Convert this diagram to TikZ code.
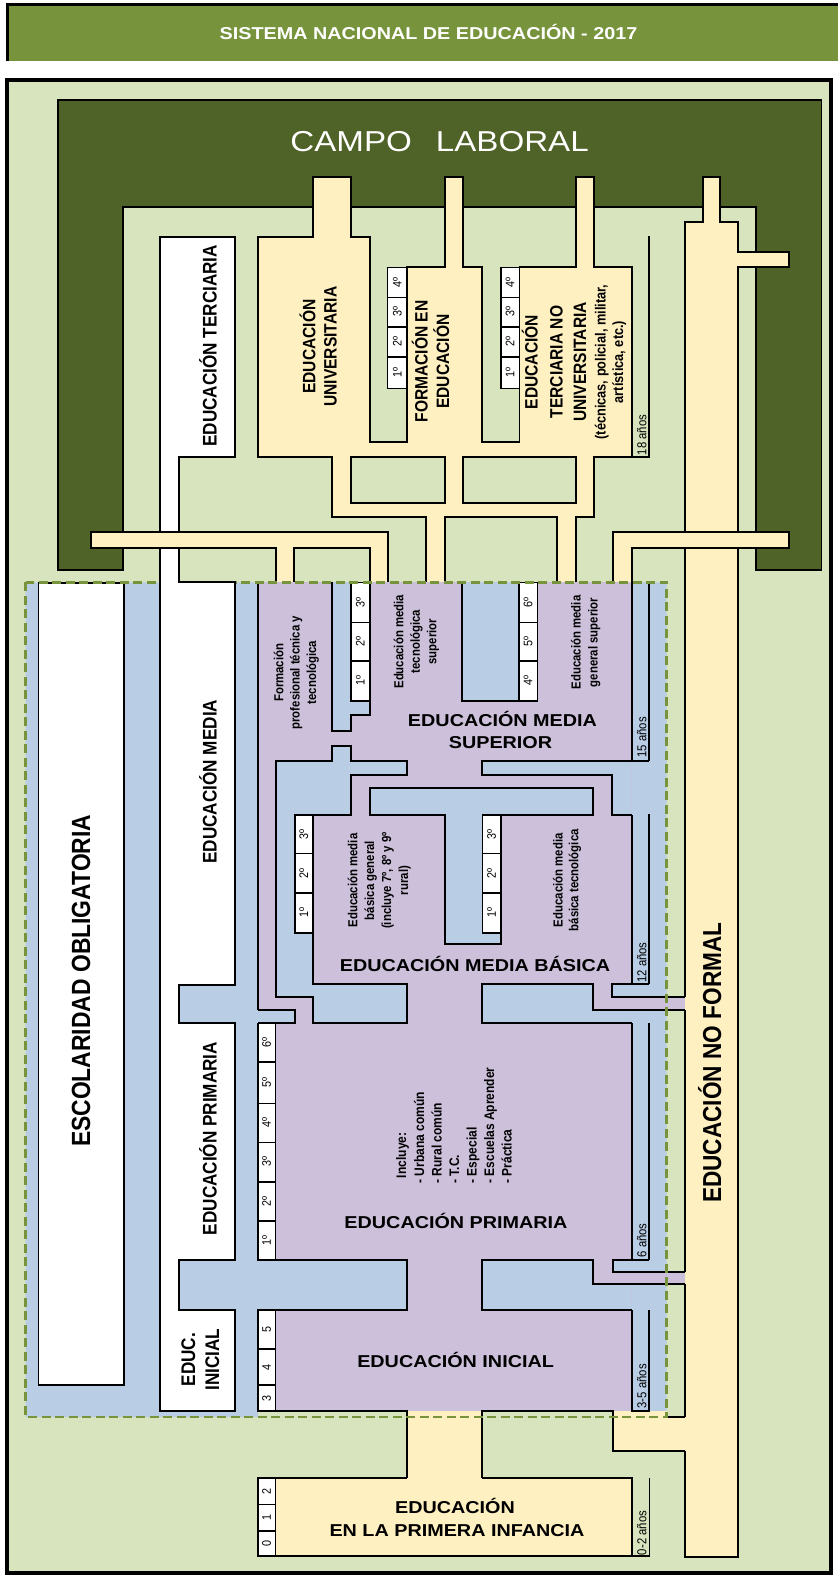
\documentclass[tikz,border=0pt]{standalone}
\usepackage{fontspec}
\setmainfont{Liberation Sans}
\newfontfamily\hfam{Liberation Sans}[FakeStretch=1.15]
\newfontfamily\vfam{Liberation Sans}[FakeStretch=0.87]
\newcommand\fHB[1]{\hfam\bfseries\fontsize{#1}{#1}\selectfont}
\newcommand\fHR[1]{\hfam\fontsize{#1}{#1}\selectfont}
\newcommand\fVB[1]{\vfam\bfseries\fontsize{#1}{#1}\selectfont}
\newcommand\fVR[1]{\vfam\fontsize{#1}{#1}\selectfont}
\definecolor{cOlive}{HTML}{77933C}
\definecolor{cDgreen}{HTML}{4F6228}
\definecolor{cLgreen}{HTML}{D7E4BD}
\definecolor{cYellow}{HTML}{FFF0C1}
\definecolor{cLav}{HTML}{CCC0DA}
\definecolor{cBlue}{HTML}{B9CDE5}
\tikzset{
  ln/.style={draw=black, line width=1.8pt, line join=miter},
  lbl/.style={inner sep=0pt, outer sep=0pt},
  hlab/.style={lbl, anchor=base},
  vlab/.style={lbl, rotate=90, anchor=base},
  vlabw/.style={lbl, rotate=90, anchor=base west},
  cellbox/.style={fill=white, draw=black, line width=1.6pt},
  celltxt/.style={lbl, rotate=90, font=\fVR{12.4}},
  agetxt/.style={lbl, rotate=90, anchor=base, font=\fVR{13}},
}
\begin{document}
\begin{tikzpicture}[x=1pt,y=-1pt]
\useasboundingbox (0,0) rectangle (838,1577);
\fill[white] (0,0) rectangle (838,1577);

% title bar
\fill[cOlive] (7,4.5) rectangle (838,61);
\draw[line width=3pt] (7,61) -- (7,4.5) -- (838,4.5);
\node[hlab, font=\fHB{17.2}, text=white] (title) at (428.5,39) {SISTEMA NACIONAL DE EDUCACIÓN - 2017};

% frame
\draw[fill=cLgreen, line width=3.5pt] (7,80) rectangle (831,1573);

% campo laboral
\draw[ln, fill=cDgreen] (57.7,100) -- (821.5,100) -- (821.5,570) -- (756,570) -- (756,206.7) -- (123,206.7) -- (123,570) -- (57.7,570) -- cycle;
\node[hlab, font=\fHR{28.8}, text=white] (campo) at (439.6,151.7) {CAMPO\hspace{24pt}LABORAL};

% yellow terciaria complex
\draw[ln, fill=cYellow, even odd rule]
 (258,236.7) -- (313.2,236.7) -- (313.2,176.7) -- (351.1,176.7) -- (351.1,236.7) -- (370,236.7) -- (370,442.3) -- (407,442.3) -- (407,267.3) -- (445,267.3) -- (445,176.7) -- (463,176.7) -- (463,267.3) -- (482,267.3) -- (482,442.3) -- (519.5,442.3) -- (519.5,267.3) -- (575.7,267.3) -- (575.7,176.7) -- (594,176.7) -- (594,267.3) -- (632,267.3) -- (632,457.3) -- (594,457.3) -- (594,517.3) -- (576,517.3) -- (576,587) -- (557,587) -- (557,517.3) -- (444.7,517.3) -- (444.7,587) -- (426,587) -- (426,517.3) -- (332,517.3) -- (332,457.3) -- (258,457.3) -- cycle
 (351.1,457.3) rectangle (445,503.3)
 (463,457.3) rectangle (576,503.3);
\draw[ln] (632,457.3) -- (649,457.3) -- (649,236);

% educacion no formal column
\fill[cYellow] (684.7,222.3) -- (703,222.3) -- (703,176.7) -- (720,176.7) -- (720,222.3) -- (738,222.3) -- (738,251.7) -- (789.3,251.7) -- (789.3,267.3) -- (738,267.3) -- (738,1556.7) -- (684.7,1556.7) -- cycle;
\draw[ln] (684.7,532.3) -- (684.7,222.3) -- (703,222.3) -- (703,176.7) -- (720,176.7) -- (720,222.3) -- (738,222.3) -- (738,251.7) -- (789.3,251.7) -- (789.3,267.3) -- (738,267.3) -- (738,532.3);

% white upper column
\fill[white] (160.3,236.7) rectangle (235.2,457.3);
\fill[white] (160.3,457.3) rectangle (179,583);
\draw[ln] (160.3,583) -- (160.3,236.7) -- (235.2,236.7) -- (235.2,457.3) -- (179,457.3) -- (179,583);

% yellow bars
\draw[ln, fill=cYellow] (90.9,532.3) -- (388.3,532.3) -- (388.3,587) -- (370,587) -- (370,548.3) -- (294.3,548.3) -- (294.3,587) -- (275.7,587) -- (275.7,548.3) -- (90.9,548.3) -- cycle;
\draw[ln, fill=cYellow] (612.7,532.3) -- (789.3,532.3) -- (789.3,548.3) -- (632,548.3) -- (632,587) -- (612.7,587) -- cycle;

% escolaridad obligatoria area
\fill[cBlue] (25.7,582.3) -- (666.7,582.3) -- (666.7,1411) -- (258,1411) -- (258,1417) -- (25.7,1417) -- cycle;
\fill[cLav] (257.7,582.3) rectangle (631.7,1411);
\fill[cLav] (631.7,997.3) rectangle (684.7,1010);
\fill[cLav] (631.7,1271.7) rectangle (684.7,1283.7);
\fill[cYellow] (407,1411) rectangle (482,1477.7);
\fill[cYellow] (612.7,1411) rectangle (666.7,1450.7);
\fill[cYellow] (666.7,1416.7) rectangle (684.7,1450.7);

% blue blocks
\fill[cBlue] (331.7,582.3) -- (370,582.3) -- (370,715.3) -- (350.7,715.3) -- (350.7,730.7) -- (331.7,730.7) -- cycle;
\fill[cBlue] (462.3,582.3) rectangle (519,700.7);
\draw[ln, fill=cBlue] (275.7,760.7) -- (331.7,760.7) -- (331.7,745.7) -- (350.7,745.7) -- (350.7,760.7) -- (406.7,760.7) -- (406.7,775) -- (350.7,775) -- (350.7,815) -- (312.7,815) -- (312.7,984) -- (406.7,984) -- (406.7,1023.3) -- (312.7,1023.3) -- (312.7,997.3) -- (275.7,997.3) -- cycle;
\draw[ln, fill=cBlue] (370,788.3) -- (593.3,788.3) -- (593.3,815) -- (500.7,815) -- (500.7,944) -- (445,944) -- (445,815) -- (370,815) -- cycle;
\fill[cBlue] (481.7,760.7) -- (631.7,760.7) -- (631.7,815) -- (612.3,815) -- (612.3,775) -- (481.7,775) -- cycle;
\fill[cBlue] (481.7,984) -- (593.3,984) -- (593.3,1010) -- (631.7,1010) -- (631.7,1023.3) -- (481.7,1023.3) -- cycle;
\fill[cBlue] (612.3,984) rectangle (631.7,997.3);
\fill[cBlue] (481.7,1260) -- (593.3,1260) -- (593.3,1283.7) -- (631.7,1283.7) -- (631.7,1310) -- (481.7,1310) -- cycle;
\fill[cBlue] (612.7,1260) rectangle (631.7,1271.7);
\fill[cBlue] (257.7,1010) rectangle (295,1023.3);
\fill[cBlue] (257.7,1260) rectangle (407,1310);

% outlines
\draw[ln] (331.7,582.3) -- (331.7,730.7) -- (350.7,730.7) -- (350.7,715.3) -- (370,715.3) -- (370,582.3);
\draw[ln] (462.3,582.3) -- (462.3,700.7) -- (537.3,700.7) -- (537.3,582.3);
\draw[ln] (631.7,815) -- (612.3,815) -- (612.3,775) -- (481.7,775) -- (481.7,760.7) -- (649.3,760.7);
\draw[ln] (631.7,1023.3) -- (481.7,1023.3) -- (481.7,984) -- (593.3,984) -- (593.3,1010) -- (684.7,1010);
\draw[ln] (649.3,984) -- (612.3,984) -- (612.3,997.3) -- (684.7,997.3);
\draw[ln] (632,1310) -- (481.7,1310) -- (481.7,1260) -- (593.3,1260) -- (593.3,1283.7) -- (684.7,1283.7);
\draw[ln] (649.3,1260) -- (612.7,1260) -- (612.7,1271.7) -- (684.7,1271.7);
\draw[ln] (257.7,1010) -- (295,1010) -- (295,1023.3) -- (258,1023.3);
\draw[ln] (258,1260) -- (407,1260) -- (407,1310) -- (258,1310);
\draw[ln] (257.7,582.3) -- (257.7,1010);
\draw[ln] (631.7,582.3) -- (631.7,760.7) (649.3,582.3) -- (649.3,760.7);
\draw[ln] (631.7,815) -- (631.7,984) (649.3,814.3) -- (649.3,984);
\draw[ln] (631.7,1023.3) -- (631.7,1260) (649.3,1023.3) -- (649.3,1260);
\draw[ln] (649.3,1310) -- (649.3,1411) -- (632,1411) -- (632,1310);
\draw[ln] (258,1411) -- (407,1411) -- (407,1477.7);
\draw[ln] (482,1477.7) -- (482,1411) -- (612.7,1411) -- (612.7,1450.7) -- (684.7,1450.7);
\draw[ln] (666.7,1416.7) -- (684.7,1416.7);
\draw[ln] (684.7,548.3) -- (684.7,997.3) (684.7,1010) -- (684.7,1271.7) (684.7,1283.7) -- (684.7,1416.7) (684.7,1450.7) -- (684.7,1556.7) -- (738,1556.7) -- (738,548.3);

% primera infancia
\fill[cYellow] (258,1477.7) rectangle (632,1556);
\draw[ln] (407,1477.7) -- (258,1477.7) -- (258,1556) -- (632,1556) -- (632,1477.7) -- (482,1477.7);
\draw[ln] (632,1556) -- (649.4,1556) -- (649.4,1477.7);

% cells
\foreach \ya/\yb/\t [count=\i] in {267.3/297.3/4º, 297.3/326.7/3º, 326.7/356.7/2º, 356.7/388.3/1º}{
  \draw[cellbox] (387.5,\ya) rectangle (407,\yb);
  \node[celltxt] (fe\i) at (397.25,{(\ya+\yb)/2}) {\t};
  \draw[cellbox] (500.8,\ya) rectangle (519.5,\yb);
  \node[celltxt] (tn\i) at (510.15,{(\ya+\yb)/2}) {\t};
}
\foreach \ya/\yb/\t [count=\i] in {582.3/622.3/3º, 622.3/661/2º, 661/700.7/1º}{
  \draw[cellbox] (350.7,\ya) rectangle (370,\yb);
  \node[celltxt] (mt\i) at (360.35,{(\ya+\yb)/2}) {\t};
}
\foreach \ya/\yb/\t [count=\i] in {582.3/622.3/6º, 622.3/661/5º, 661/700.7/4º}{
  \draw[cellbox] (519,\ya) rectangle (537.3,\yb);
  \node[celltxt] (mg\i) at (528.15,{(\ya+\yb)/2}) {\t};
}
\foreach \ya/\yb/\t [count=\i] in {815/853.5/3º, 853.5/892.7/2º, 892.7/932.7/1º}{
  \draw[cellbox] (295,\ya) rectangle (312.7,\yb);
  \node[celltxt] (bg\i) at (303.85,{(\ya+\yb)/2}) {\t};
  \draw[cellbox] (482.3,\ya) rectangle (500.7,\yb);
  \node[celltxt] (bt\i) at (491.5,{(\ya+\yb)/2}) {\t};
}
\foreach \ya/\yb/\t [count=\i] in {1023.3/1061.7/6º, 1061.7/1103.3/5º, 1103.3/1142.3/4º, 1142.3/1181.7/3º, 1181.7/1220.7/2º, 1220.7/1260/1º}{
  \draw[cellbox] (258,\ya) rectangle (275.3,\yb);
  \node[celltxt] (pr\i) at (266.65,{(\ya+\yb)/2}) {\t};
}
\foreach \ya/\yb/\t [count=\i] in {1310/1349/5, 1349/1385/4, 1385/1411/3, 1477.7/1504.3/2, 1504.3/1531/1, 1531/1556/0}{
  \draw[cellbox] (258,\ya) rectangle (275.3,\yb);
  \node[celltxt] (in\i) at (266.65,{(\ya+\yb)/2}) {\t};
}

% escolaridad obligatoria box and dashed border
\draw[ln, fill=white] (38.5,583) rectangle (124,1385);
\draw[cOlive, line width=2.6pt, dash pattern=on 9pt off 4.5pt] (25.7,582.3) rectangle (666.7,1417);

% white lower column
\fill[white] (160.3,578) -- (179,578) -- (179,581.7) -- (235.2,581.7) -- (235.2,985) -- (179,985) -- (179,1023.3) -- (235.2,1023.3) -- (235.2,1260) -- (179,1260) -- (179,1310) -- (235.2,1310) -- (235.2,1411) -- (160.3,1411) -- cycle;
\draw[ln] (160.3,578) -- (160.3,1411) -- (235.2,1411) -- (235.2,1310) -- (179,1310) -- (179,1260) -- (235.2,1260) -- (235.2,1023.3) -- (179,1023.3) -- (179,985) -- (235.2,985) -- (235.2,581.7) -- (179,581.7) -- (179,578);

% vertical labels
\node[vlab, font=\fVB{19.7}] (lter) at (216.5,345.8) {EDUCACIÓN TERCIARIA};
\node[vlab, font=\fVB{19.7}] (lmed) at (216.5,781.7) {EDUCACIÓN MEDIA};
\node[vlab, font=\fVB{19.7}] (lpri) at (216.5,1138.5) {EDUCACIÓN PRIMARIA};
\node[vlab, font=\fVB{19.7}] (lini1) at (195.1,1359.5) {EDUC.};
\node[vlab, font=\fVB{19.7}] (lini2) at (219.1,1359.5) {INICIAL};
\node[vlab, font=\fVB{26.3}] (lesc) at (90,980.8) {ESCOLARIDAD OBLIGATORIA};
\node[vlab, font=\fVB{26}] (lnf) at (721,1062.7) {EDUCACIÓN NO FORMAL};

\node[vlab, font=\fVB{17.9}] (lu1) at (315.3,346.7) {EDUCACIÓN};
\node[vlab, font=\fVB{17.9}] (lu2) at (336.7,346.7) {UNIVERSITARIA};
\node[vlab, font=\fVB{17.9}] (lf1) at (427.6,361.5) {FORMACIÓN EN};
\node[vlab, font=\fVB{17.9}] (lf2) at (449,361.5) {EDUCACIÓN};
\node[vlab, font=\fVB{17.9}] (lt1) at (537.5,362) {EDUCACIÓN};
\node[vlab, font=\fVB{17.9}] (lt2) at (562.7,362) {TERCIARIA NO};
\node[vlab, font=\fVB{17.9}] (lt3) at (586,362) {UNIVERSITARIA};
\node[vlab, font=\fVB{14.7}] (lt4) at (605.5,362) {(técnicas, policial, militar,};
\node[vlab, font=\fVB{14.7}] (lt5) at (623,362) {artística, etc.)};

\node[vlab, font=\fVB{13.1}] (fp1) at (283.3,672.7) {Formación};
\node[vlab, font=\fVB{13.1}] (fp2) at (299.6,672.7) {profesional técnica y};
\node[vlab, font=\fVB{13.1}] (fp3) at (316,672.7) {tecnológica};
\node[vlab, font=\fVB{13.1}] (ts1) at (403.3,641.7) {Educación media};
\node[vlab, font=\fVB{13.1}] (ts2) at (419.8,641.7) {tecnológica};
\node[vlab, font=\fVB{13.1}] (ts3) at (436.3,641.7) {superior};
\node[vlab, font=\fVB{13.1}] (gs1) at (580.7,642.5) {Educación media};
\node[vlab, font=\fVB{13.1}] (gs2) at (597.5,642.5) {general superior};
\node[vlab, font=\fVB{13.1}] (bg1) at (357.3,880.5) {Educación media};
\node[vlab, font=\fVB{13.1}] (bg2) at (374.2,880.5) {básica general};
\node[vlab, font=\fVB{13.1}] (bg3) at (391.1,880.5) {(incluye 7º, 8º y 9º};
\node[vlab, font=\fVB{13.1}] (bg4) at (408,880.5) {rural)};
\node[vlab, font=\fVB{13.1}] (bt1) at (562.7,880.2) {Educación media};
\node[vlab, font=\fVB{13.1}] (bt2) at (578.3,880.2) {básica tecnológica};

\node[vlabw, font=\fVB{13.8}] (inc0) at (406,1178) {Incluye:};
\node[vlabw, font=\fVB{13.8}] (inc1) at (424,1183.5) {- Urbana común};
\node[vlabw, font=\fVB{13.8}] (inc2) at (441.5,1183.5) {- Rural común};
\node[vlabw, font=\fVB{13.8}] (inc3) at (459,1183.5) {- T.C.};
\node[vlabw, font=\fVB{13.8}] (inc4) at (476.5,1183.5) {- Especial};
\node[vlabw, font=\fVB{13.8}] (inc5) at (494,1183.5) {- Escuelas Aprender};
\node[vlabw, font=\fVB{13.8}] (inc6) at (511.5,1183.5) {- Práctica};

% ages
\node[agetxt] (a18) at (646.3,435) {18 años};
\node[agetxt] (a15) at (646.3,737.3) {15 años};
\node[agetxt] (a12) at (646.3,962.5) {12 años};
\node[agetxt] (a6) at (646.3,1240.3) {6 años};
\node[agetxt] (a3) at (646.3,1386.3) {3-5 años};
\node[agetxt] (a0) at (646.3,1533) {0-2 años};

% horizontal labels
\node[hlab, font=\fHB{17.2}] (hms1) at (502.5,726.7) {EDUCACIÓN MEDIA};
\node[hlab, font=\fHB{17.2}] (hms2) at (500.5,748.3) {SUPERIOR};
\node[hlab, font=\fHB{17.2}] (hmb) at (475,971.7) {EDUCACIÓN MEDIA BÁSICA};
\node[hlab, font=\fHB{17.2}] (hpr) at (456,1228.3) {EDUCACIÓN PRIMARIA};
\node[hlab, font=\fHB{17.2}] (hin) at (455.6,1367.7) {EDUCACIÓN INICIAL};
\node[hlab, font=\fHB{17.2}] (hpi1) at (455,1513.3) {EDUCACIÓN};
\node[hlab, font=\fHB{17.2}] (hpi2) at (457,1536) {EN LA PRIMERA INFANCIA};
\end{tikzpicture}
\end{document}
